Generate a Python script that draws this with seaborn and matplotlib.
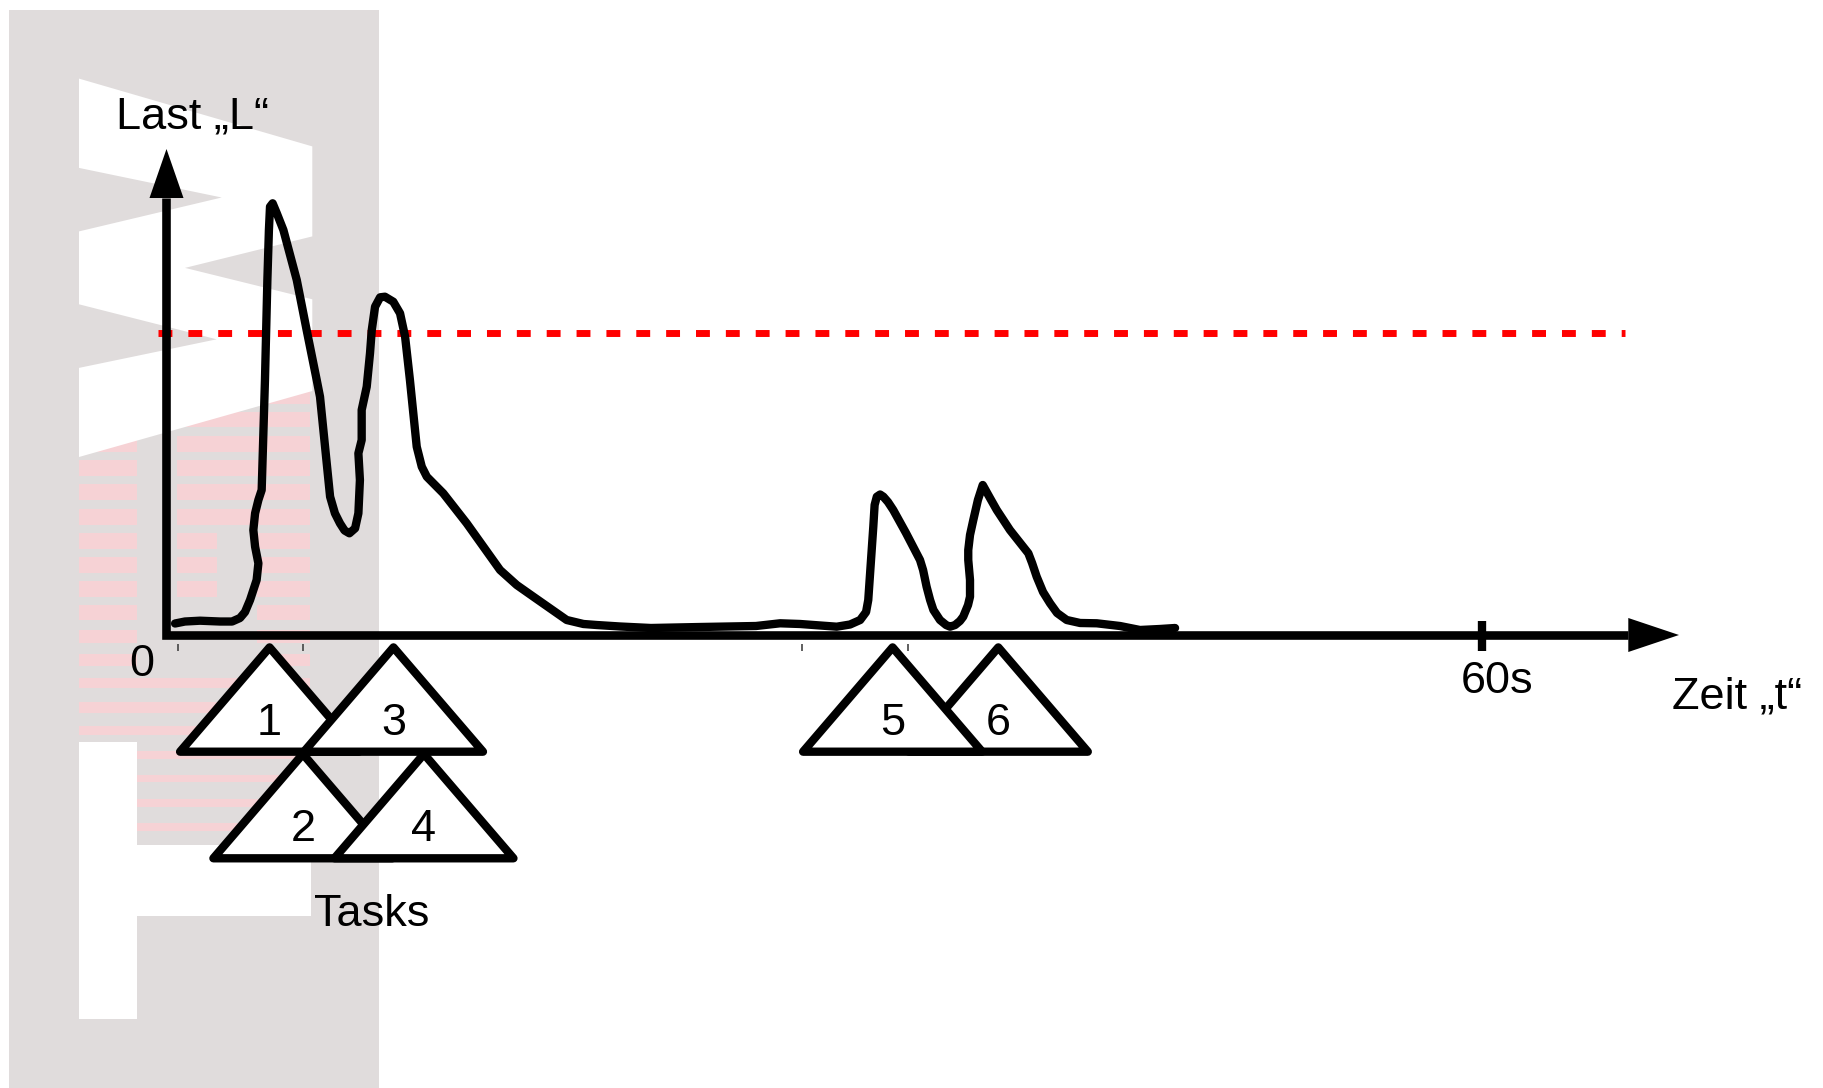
import matplotlib
matplotlib.use("Agg")
import matplotlib.pyplot as plt
from matplotlib.patches import Polygon, Rectangle
import seaborn as sns

# ---------------- data ----------------
time_s = [0.39, 0.84, 1.53, 2.44, 2.99, 3.35, 3.58, 3.81, 4.11, 4.19, 4.04, 3.96,
          4.04, 4.19, 4.34, 4.49, 4.60, 4.67, 4.72, 4.84, 5.03, 5.33, 5.94, 6.39,
          6.85, 7.00, 7.23, 7.46, 7.68, 7.91, 8.12, 8.34, 8.60, 8.75, 8.82, 8.75,
          8.90, 8.90, 9.13, 9.28, 9.36, 9.51, 9.74, 9.96, 10.34, 10.65, 10.88, 11.10,
          11.41, 11.64, 11.87, 12.62, 13.69, 15.21, 15.97, 16.73, 18.25, 19.01, 19.62,
          20.68, 22.09, 24.33, 26.88, 27.98, 28.89, 30.56, 31.17, 31.63, 31.90, 32.00,
          32.23, 32.29, 32.39, 32.54, 32.69, 32.90, 33.14, 33.72, 34.36, 34.50, 34.66,
          34.82, 34.97, 35.27, 35.55, 35.73, 35.96, 36.18, 36.33, 36.55, 36.64, 36.64,
          36.56, 36.56, 36.64, 36.79, 37.00, 37.22, 37.55, 37.86, 38.46, 39.30, 39.47,
          39.68, 39.97, 40.29, 40.61, 41.05, 41.66, 42.42, 43.48, 44.39, 45.30, 45.99]
load = [3.81, 4.47, 4.74, 4.47, 4.47, 5.63, 7.62, 11.60, 18.23, 23.76, 29.27, 34.80,
        40.34, 44.75, 48.06, 84.52, 117.66, 134.24, 141.96, 143.09, 139.77, 134.24, 117.66, 101.09,
        84.52, 78.98, 62.41, 45.84, 40.34, 37.02, 34.64, 33.71, 35.37, 40.34, 51.37, 60.22,
        64.63, 74.58, 82.30, 93.37, 101.09, 108.82, 111.93, 112.13, 110.47, 106.63, 98.87, 84.52,
        62.41, 55.78, 52.47, 46.97, 37.02, 21.54, 16.57, 12.69, 4.97, 3.65, 3.31,
        2.82, 2.32, 2.65, 2.98, 3.88, 3.65, 2.75, 3.48, 4.97, 7.62, 11.60,
        35.90, 43.09, 45.84, 46.57, 45.84, 44.08, 41.43, 33.81, 24.86, 21.54, 16.01,
        11.60, 8.29, 4.97, 3.31, 2.75, 3.31, 4.64, 6.07, 9.94, 12.69, 18.23,
        24.86, 28.17, 33.15, 38.12, 44.75, 49.72, 45.41, 41.43, 34.80, 27.08, 23.86,
        19.32, 14.25, 10.51, 7.29, 4.97, 3.98, 3.88, 2.98, 1.66, 1.99, 2.32]

threshold = 100
threshold_span = [-0.37, 66.5]

task_labels = ["1", "2", "3", "4", "5", "6"]
task_center_s = [4.70, 6.22, 10.35, 11.74, 33.11, 37.93]
task_row = [0, 1, 0, 1, 0, 0]
draw_order = ["2", "4", "1", "3", "6", "5"]

minor_tick_s = [0.54, 6.24, 28.99, 33.83]
major_tick_s = [60]
major_tick_labels = ["60s"]
origin_label = "0"
y_label = "Last „L“"
x_label = "Zeit „t“"
tasks_label = "Tasks"

# ---------------- geometry ----------------
W, H = 1824, 1088
X0, Y0 = 166.5, 635.0      # pixel position of the origin
PX_S = 21.93               # pixels per second
PX_L = 3.017               # pixels per load unit


def tx(xp):
    return (xp - X0) / PX_S


def ty(yp):
    return (Y0 - yp) / PX_L


sns.set_theme(style="white")
plt.rcParams['font.family'] = ['Liberation Sans', 'DejaVu Sans']
plt.rcParams['text.color'] = 'black'

fig = plt.figure(figsize=(W / 100, H / 100), dpi=100)
fig.patch.set_facecolor("white")

# background watermark (pixel coordinates)
bg = fig.add_axes([0, 0, 1, 1])
bg.set_xlim(0, W)
bg.set_ylim(H, 0)
bg.axis("off")

gray = "#e0dcdc"
pink = "#f6d2d5"
bg.add_patch(Rectangle((9.3, 9.7), 369.7, 1090, color=gray, lw=0))
thick = [16, 15, 16, 16, 16, 16, 16, 16, 16, 15, 13, 12, 10, 11, 9, 8, 7, 8, 8]
for i, th in enumerate(thick):
    top = 387.5 + 24.2 * i
    segs = []
    if top < 672:
        segs.append((79.3, 137.3))
        if top < 510:
            segs.append((176.7, 310))
        elif top < 600:
            segs += [(176.7, 216.7), (256.7, 310)]
        else:
            segs.append((256.7, 310))
    else:
        segs.append((79.3, 310))
    for a, b in segs:
        bg.add_patch(Rectangle((a, top), b - a, th, color=pink, lw=0))

zig = [(79, 78.6), (312.3, 146.4), (312.3, 236.4), (185, 267.9), (312.3, 299.3),
       (312.3, 391), (79, 457), (79, 367.9), (216.7, 339.3), (79, 304.3),
       (79, 231.4), (221.7, 197.5), (79, 167.9)]
bg.add_patch(Polygon(zig, closed=True, color="white", lw=0))
bg.add_patch(Rectangle((78.6, 742), 58.9, 277, color="white", lw=0))
bg.add_patch(Rectangle((137.5, 845), 173.2, 71.4, color="white", lw=0))

# main data axes
ax = fig.add_axes([0, 0, 1, 1])
ax.patch.set_visible(False)

FS = 32.5
LW = 6.0

# threshold
ax.plot(threshold_span, [threshold, threshold], color="#ff0000", lw=5.0,
        dashes=(2.0, 2.3), dash_capstyle="butt", zorder=3)

# axes lines with arrows
ax.plot([0, 0, tx(1628.3)], [ty(198), 0, 0], color="black", lw=6.2,
        solid_joinstyle="miter", solid_capstyle="butt", zorder=4)
ax.add_patch(Polygon([(tx(149.5), ty(198)), (tx(166.5), ty(149)), (tx(183.5), ty(198))],
                     closed=True, color="black", lw=0, zorder=4))
ax.add_patch(Polygon([(tx(1628.3), ty(618)), (tx(1679), 0), (tx(1628.3), ty(652))],
                     closed=True, color="black", lw=0, zorder=4))

# ticks
for t, lab in zip(major_tick_s, major_tick_labels):
    ax.plot([t, t], [ty(620.7), ty(650.7)], color="black", lw=6.0,
            solid_capstyle="butt", zorder=4)
    ax.text(t + 14.5 / PX_S, ty(693), lab, ha="center", va="baseline", fontsize=FS)
ax.vlines(minor_tick_s, ty(651), ty(644), color="#444444", lw=1.2, zorder=4)

# load curve
sns.lineplot(x=time_s, y=load, sort=False, estimator=None, color="black",
             lw=LW, solid_joinstyle="round", solid_capstyle="round", ax=ax, zorder=5)

# task triangles
HW = 89.5 / PX_S
TH = 104.3 / PX_L
ROW_STEP = 106.6 / PX_L
APEX0 = ty(647.4)
for lab in draw_order:
    i = task_labels.index(lab)
    c = task_center_s[i]
    apex = APEX0 - task_row[i] * ROW_STEP
    base = apex - TH
    ax.add_patch(Polygon([(c - HW, base), (c, apex), (c + HW, base)], closed=True,
                         fc="white", ec="black", lw=LW, joinstyle="round", zorder=6))
    ax.text(c, apex - 87.2 / PX_L, lab, ha="center", va="baseline", fontsize=FS, zorder=7)

# labels
ax.text(tx(142), ty(676), origin_label, ha="center", va="baseline", fontsize=FS)
ax.text(tx(192.5), ty(128.6), y_label, ha="center", va="baseline", fontsize=FS)
ax.text(tx(1737.5), ty(708.3), x_label, ha="center", va="baseline", fontsize=FS)
ax.text(tx(371.5), ty(926.2), tasks_label, ha="center", va="baseline", fontsize=FS)

ax.set_xlim(-X0 / PX_S, (W - X0) / PX_S)
ax.set_ylim(-(H - Y0) / PX_L, Y0 / PX_L)
ax.axis("off")
if ax.get_legend() is not None:
    ax.get_legend().remove()

fig.savefig("out.png", dpi=100)
